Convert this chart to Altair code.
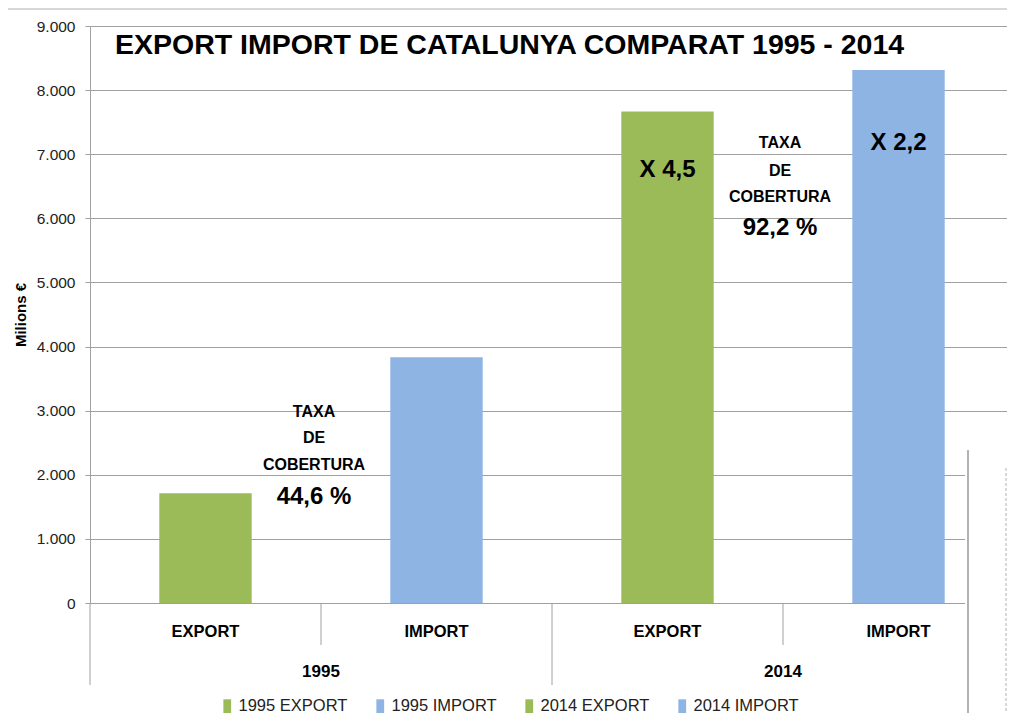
import altair as alt
import pandas as pd

# ---- data ----
categories = ["1995 EXPORT", "1995 IMPORT", "2014 EXPORT", "2014 IMPORT"]
values = [1710, 3835, 7665, 8315]
y_ticks = [0, 1000, 2000, 3000, 4000, 5000, 6000, 7000, 8000, 9000]
years = ["1995", "2014"]
year_label_cat = ["1995 IMPORT", "2014 IMPORT"]          # group label sits on this band's left edge
inner_sep_cat = ["1995 IMPORT", "2014 IMPORT"]            # short separators
group_sep_cat = ["1995 EXPORT", "2014 EXPORT"]            # long separators

cob_cat = ["1995 IMPORT"] * 4 + ["2014 IMPORT"] * 4
cob_text = ["TAXA", "DE", "COBERTURA", "44,6 %", "TAXA", "DE", "COBERTURA", "92,2 %"]
cob_pos = [2983, 2578, 2156, 1658, 7175, 6738, 6333, 5850]
cob_size = [16, 16, 16, 24, 16, 16, 16, 24]
cob_shift = [-7, -7, -7, -7, -3, -3, -3, -3]

mult_cat = ["2014 EXPORT", "2014 IMPORT"]
mult_text = ["X 4,5", "X 2,2"]
mult_pos = [6750, 7170]

TITLE = "EXPORT IMPORT DE CATALUNYA COMPARAT 1995 - 2014"

GREEN = "#9BBB59"
BLUE = "#8DB4E2"
GRID = "#a0a0a0"
FONT = "Liberation Sans"

W, H = 917, 577      # visible view (page is 1015 wide)
BAND_RANGE = 924     # the category axis runs past the cropped right edge

df = pd.DataFrame({"cat": categories, "value": values})
cob_df = pd.DataFrame({"cat": cob_cat, "value": cob_pos, "text": cob_text,
                       "size": cob_size, "shift": cob_shift})
mult_df = pd.DataFrame({"cat": mult_cat, "value": mult_pos, "text": mult_text})
year_df = pd.DataFrame({"cat": year_label_cat, "text": years})
inner_df = pd.DataFrame({"cat": inner_sep_cat})
group_df = pd.DataFrame({"cat": group_sep_cat})
one = pd.DataFrame({"t": [TITLE]})

x_scale = alt.Scale(domain=categories, paddingInner=0, paddingOuter=0, range=[0, BAND_RANGE])
y_scale = alt.Scale(domain=[0, 9000], nice=False)

x_axis = alt.Axis(labelExpr="split(datum.label, ' ')[1]", labelFont=FONT,
                  labelFontSize=16.5, labelFontWeight="bold", labelColor="black",
                  labelPadding=20, ticks=False, domainColor=GRID, grid=False,
                  labelAngle=0, title=None)
y_axis = alt.Axis(values=y_ticks,
                  labelExpr="replace(format(datum.value, ','), ',', '.')",
                  labelFont=FONT, labelFontSize=15.5, labelColor="#222",
                  labelPadding=10, tickSize=5, tickColor=GRID, domainColor=GRID,
                  grid=True, gridColor=GRID, title="Milions €",
                  titleFont=FONT, titleFontSize=15,
                  titleFontWeight="bold", titlePadding=8, titleColor="black")


def X(**kw):
    return alt.X("cat:N", scale=x_scale, axis=x_axis, title=None, **kw)


def Y():
    return alt.Y("value:Q", scale=y_scale, axis=y_axis, title="Milions €")


bars = alt.Chart(df).mark_bar(width=alt.RelativeBandSize(0.4)).encode(
    x=X(),
    y=Y(),
    color=alt.Color("cat:N",
                    scale=alt.Scale(domain=categories, range=[GREEN, BLUE, GREEN, BLUE]),
                    legend=alt.Legend(title=None, orient="none", legendX=129, legendY=672,
                                      direction="horizontal", columns=4,
                                      symbolType="M-0.55,-1L0.55,-1L0.55,1L-0.55,1Z",
                                      symbolSize=200, symbolStrokeWidth=0,
                                      labelFont=FONT, labelFontSize=16.5, labelColor="#222",
                                      labelOffset=3, columnPadding=24, padding=0)),
)

cob = alt.Chart(cob_df).mark_text(font=FONT, fontWeight="bold", color="black",
                                  baseline="middle", align="center").encode(
    x=X(bandPosition=0),
    xOffset=alt.XOffset("shift:Q", scale=None),
    y=Y(),
    text="text:N",
    size=alt.Size("size:Q", scale=None, legend=None),
)

mult = alt.Chart(mult_df).mark_text(font=FONT, fontWeight="bold", color="black",
                                    baseline="middle", align="center", fontSize=24).encode(
    x=X(),
    y=Y(),
    text="text:N",
)

year_lbl = alt.Chart(year_df).mark_text(font=FONT, fontWeight="bold", color="black",
                                        baseline="middle", align="center", fontSize=17).encode(
    x=X(bandPosition=0),
    y=alt.value(646),
    text="text:N",
)

inner_sep = alt.Chart(inner_df).mark_rule(color=GRID, strokeWidth=1).encode(
    x=X(bandPosition=0),
    y=alt.value(H), y2=alt.value(H + 42),
)

group_sep = alt.Chart(group_df).mark_rule(color=GRID, strokeWidth=1).encode(
    x=X(bandPosition=0),
    y=alt.value(H), y2=alt.value(H + 82),
)

title = alt.Chart(one).mark_text(font=FONT, fontWeight="bold", fontSize=28.5, color="black",
                                 align="left", baseline="middle").encode(
    x=alt.value(25), y=alt.value(19), text="t:N")

# slide decorations (cropped screenshot edges)
cover = alt.Chart(one).mark_rect(color="white").encode(
    x=alt.value(875), x2=alt.value(940), y=alt.value(424), y2=alt.value(720))
vline = alt.Chart(one).mark_rule(color="#999999", strokeWidth=1.5).encode(
    x=alt.value(878), y=alt.value(424), y2=alt.value(720))
dotted = alt.Chart(one).mark_rule(color="#cccccc", strokeWidth=1.5, strokeDash=[3, 2]).encode(
    x=alt.value(916), y=alt.value(442), y2=alt.value(720))
topline = alt.Chart(one).mark_rule(color="#b0b0b0", strokeWidth=1).encode(
    x=alt.value(-82), x2=alt.value(W), y=alt.value(-17))

chart = alt.layer(bars, cob, mult, year_lbl, inner_sep, group_sep, title,
                  cover, vline, dotted, topline).properties(
    width=W, height=H,
    autosize=alt.AutoSizeParams(type="none"),
    padding={"left": 82, "top": 18, "right": 0, "bottom": 110},
).configure_view(strokeWidth=0)

chart.save("out.html", embed_options={"renderer": "svg", "actions": False})
